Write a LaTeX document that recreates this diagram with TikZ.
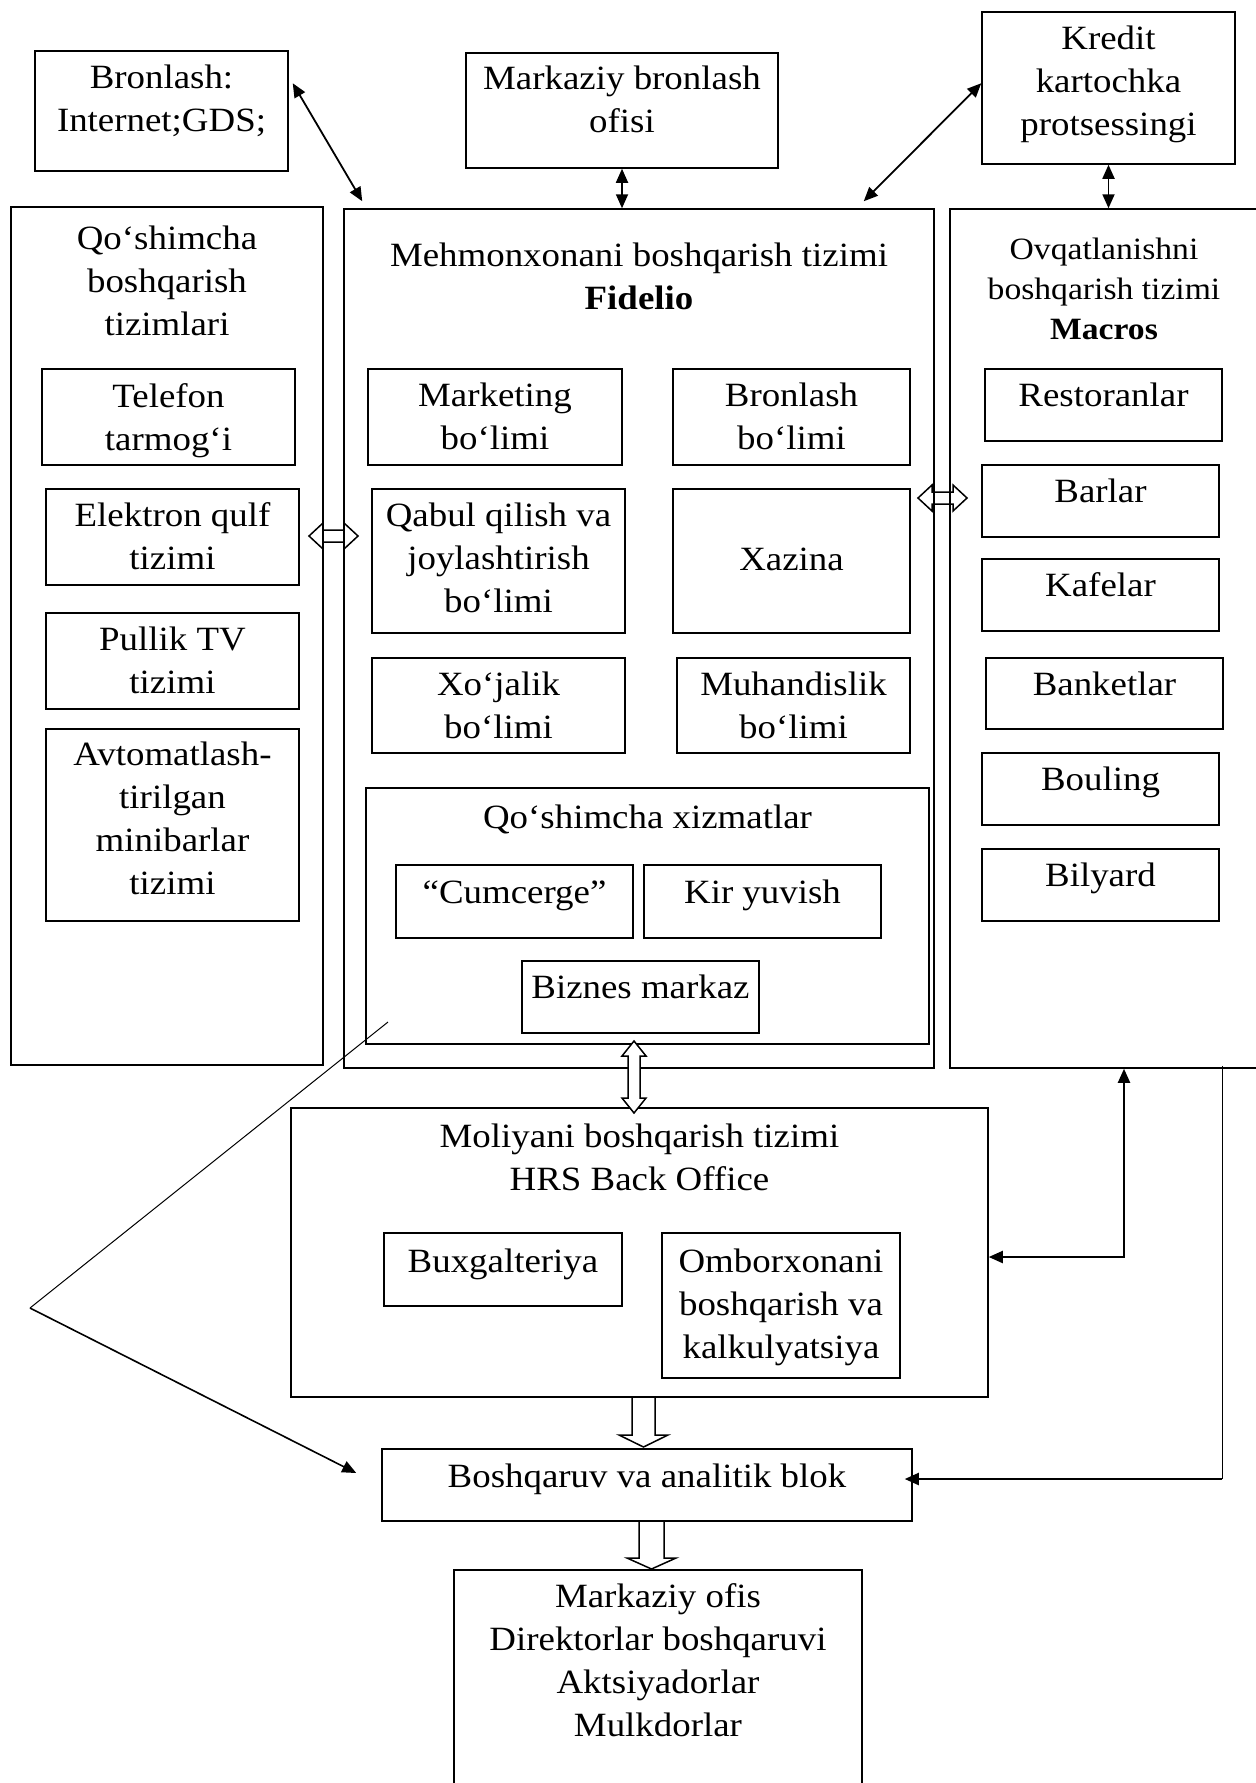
\documentclass[tikz,border=0pt]{standalone}
\usepackage{fontspec}
\setmainfont{Liberation Serif}[FakeStretch=1.085]
\usetikzlibrary{arrows.meta,calc,fit}
\begin{document}
\begin{tikzpicture}[x=0.5pt,y=-0.5pt,
  frame/.style={draw, line width=0.75pt, inner sep=0pt},
  % text nodes are anchored at the baseline of their last line
  txt/.style={align=center, anchor=base, inner sep=0pt, font=\fontsize{17}{21.5}\selectfont},
  txts/.style={txt, font=\fontsize{15.5}{20}\selectfont},
  arr/.style={line width=0.9pt, -{Triangle[length=7pt,width=6pt]}},
  darr/.style={line width=0.9pt, {Triangle[length=7pt,width=6pt]}-{Triangle[length=7pt,width=6pt]}},
  hollow/.style={draw, line width=0.75pt, line join=miter},
  thinline/.style={line width=0.5pt}]
\useasboundingbox (0,0) rectangle (1256,1783);

% ---- top row: external systems ----
\node[frame, fit={(35,51) (288,171)}] (bron) {};
\node[txt] (bron-t) at (161.5,131) {Bronlash:\\Internet;GDS;};
\node[frame, fit={(466,53) (778,168)}] (mbo) {};
\node[txt] (mbo-t) at (622,132) {Markaziy bronlash\\ofisi};
\node[frame, fit={(982,12) (1235,164)}] (kre) {};
\node[txt] (kre-t) at (1108.5,135) {Kredit\\kartochka\\protsessingi};

% ---- three main columns ----
\node[frame, fit={(11,207) (323,1065)}] (qbt) {};
\node[txt] (qbt-t) at (167,335) {Qo‘shimcha\\boshqarish\\tizimlari};
\node[frame, fit={(344,209) (934,1068)}] (fid) {};
\node[txt] (fid-t) at (639,309) {Mehmonxonani boshqarish tizimi\\\textbf{Fidelio}};
\node[frame, fit={(950,209) (1264,1068)}] (mac) {};
\node[txts] (mac-t) at (1104,339) {Ovqatlanishni\\boshqarish tizimi\\\textbf{Macros}};

% ---- additional management systems ----
\node[frame, fit={(42,369) (295,465)}] (tel) {};
\node[txt] (tel-t) at (168.5,450) {Telefon\\tarmog‘i};
\node[frame, fit={(46,489) (299,585)}] (ele) {};
\node[txt] (ele-t) at (172.5,569) {Elektron qulf\\tizimi};
\node[frame, fit={(46,613) (299,709)}] (tv) {};
\node[txt] (tv-t) at (172.5,693) {Pullik TV\\tizimi};
\node[frame, fit={(46,729) (299,921)}] (avt) {};
\node[txt] (avt-t) at (172.5,894) {Avtomatlash-\\tirilgan\\minibarlar\\tizimi};

% ---- Fidelio departments ----
\node[frame, fit={(368,369) (622,465)}] (mkt) {};
\node[txt] (mkt-t) at (495,449) {Marketing\\bo‘limi};
\node[frame, fit={(673,369) (910,465)}] (brb) {};
\node[txt] (brb-t) at (791.5,449) {Bronlash\\bo‘limi};
\node[frame, fit={(372,489) (625,633)}] (qab) {};
\node[txt] (qab-t) at (498.5,612) {Qabul qilish va\\joylashtirish\\bo‘limi};
\node[frame, fit={(673,489) (910,633)}] (xaz) {};
\node[txt] (xaz-t) at (791.5,570) {Xazina};
\node[frame, fit={(372,658) (625,753)}] (xoj) {};
\node[txt] (xoj-t) at (498.5,738) {Xo‘jalik\\bo‘limi};
\node[frame, fit={(677,658) (910,753)}] (muh) {};
\node[txt] (muh-t) at (793.5,738) {Muhandislik\\bo‘limi};
\node[frame, fit={(366,788) (929,1044)}] (qx) {};
\node[txt] (qx-t) at (647.5,828) {Qo‘shimcha xizmatlar};
\node[frame, fit={(396,865) (633,938)}] (cum) {};
\node[txt] (cum-t) at (514.5,903) {“Cumcerge”};
\node[frame, fit={(644,865) (881,938)}] (kir) {};
\node[txt] (kir-t) at (762.5,903) {Kir yuvish};
\node[frame, fit={(522,961) (759,1033)}] (biz) {};
\node[txt] (biz-t) at (640.5,998) {Biznes markaz};

% ---- Macros outlets ----
\node[frame, fit={(985,369) (1222,441)}] (res) {};
\node[txt] (res-t) at (1103.5,406) {Restoranlar};
\node[frame, fit={(982,465) (1219,537)}] (bar) {};
\node[txt] (bar-t) at (1100.5,502) {Barlar};
\node[frame, fit={(982,559) (1219,631)}] (kaf) {};
\node[txt] (kaf-t) at (1100.5,596) {Kafelar};
\node[frame, fit={(986,658) (1223,729)}] (ban) {};
\node[txt] (ban-t) at (1104.5,695) {Banketlar};
\node[frame, fit={(982,753) (1219,825)}] (bou) {};
\node[txt] (bou-t) at (1100.5,790) {Bouling};
\node[frame, fit={(982,849) (1219,921)}] (bil) {};
\node[txt] (bil-t) at (1100.5,886) {Bilyard};

% ---- finance, analytics, head office ----
\node[frame, fit={(291,1108) (988,1397)}] (mol) {};
\node[txt] (mol-t) at (639.5,1190) {Moliyani boshqarish tizimi\\HRS Back Office};
\node[frame, fit={(384,1233) (622,1306)}] (bux) {};
\node[txt] (bux-t) at (503,1272) {Buxgalteriya};
\node[frame, fit={(662,1233) (900,1378)}] (omb) {};
\node[txt] (omb-t) at (781,1358) {Omborxonani\\boshqarish va\\kalkulyatsiya};
\node[frame, fit={(382,1449) (912,1521)}] (bosh) {};
\node[txt] (bosh-t) at (647,1487) {Boshqaruv va analitik blok};
\node[frame, fit={(454,1570) (862,1800)}] (mof) {};
\node[txt] (mof-t) at (658,1736) {Markaziy ofis\\Direktorlar boshqaruvi\\Aktsiyadorlar\\Mulkdorlar};

% ---- solid two-way links at the top ----
\draw[darr] ($(bron.north east)+(4,33)$) -- ($(fid.north west)+(19,-7)$);
\draw[darr] (mbo.south) -- (mbo.south |- fid.north);
\draw[darr] ($(kre.north west)+(0,72)$) -- ($(fid.north east)+(-71,-7)$);
\draw[darr] (kre.south) -- (kre.south |- mac.north);

% ---- hollow block arrows ----
\draw[hollow] (309,536) -- (323,523) -- (323,530) -- (344,530) -- (344,523) -- (358,536)
  -- (344,549) -- (344,542) -- (323,542) -- (323,549) -- cycle;
\draw[hollow] (918,498) -- (932,485) -- (932,492) -- (953,492) -- (953,485) -- (967,498)
  -- (953,511) -- (953,504) -- (932,504) -- (932,511) -- cycle;
\draw[hollow, fill=white] (634,1041) -- (646,1056) -- (640,1056) -- (640,1098) -- (646,1098)
  -- (634,1113) -- (622,1098) -- (628,1098) -- (628,1056) -- (622,1056) -- cycle;
\draw[hollow, fill=white] (632,1397) -- (655,1397) -- (655,1435) -- (668,1435) -- (643.5,1447)
  -- (619,1435) -- (632,1435) -- cycle;
\draw[hollow, fill=white] (639,1521) -- (664,1521) -- (664,1558) -- (676,1558) -- (651.5,1569)
  -- (627,1558) -- (639,1558) -- cycle;

% ---- Macros to finance ----
\coordinate (j) at (1124,1257);
\draw[darr, line width=1pt] (j -| mol.east) -- (j) -- (j |- mac.south);

% ---- Macros side line to analytics ----
\coordinate (k) at (1222,1479);
\draw[thinline] ($(k |- mac.south)+(0,-3)$) -- (k);
\draw[arr, line width=1pt] (k) -- ($(k -| bosh.east)+(-8,0)$);

% ---- additional services to analytics ----
\coordinate (d0) at (388,1022);
\coordinate (d1) at (30,1308);
\draw[thinline] (d0) -- (d1);
\draw[arr, line width=0.8pt] (d1) -- ($(bosh.west)+(-25,-12)$);
\end{tikzpicture}
\end{document}
